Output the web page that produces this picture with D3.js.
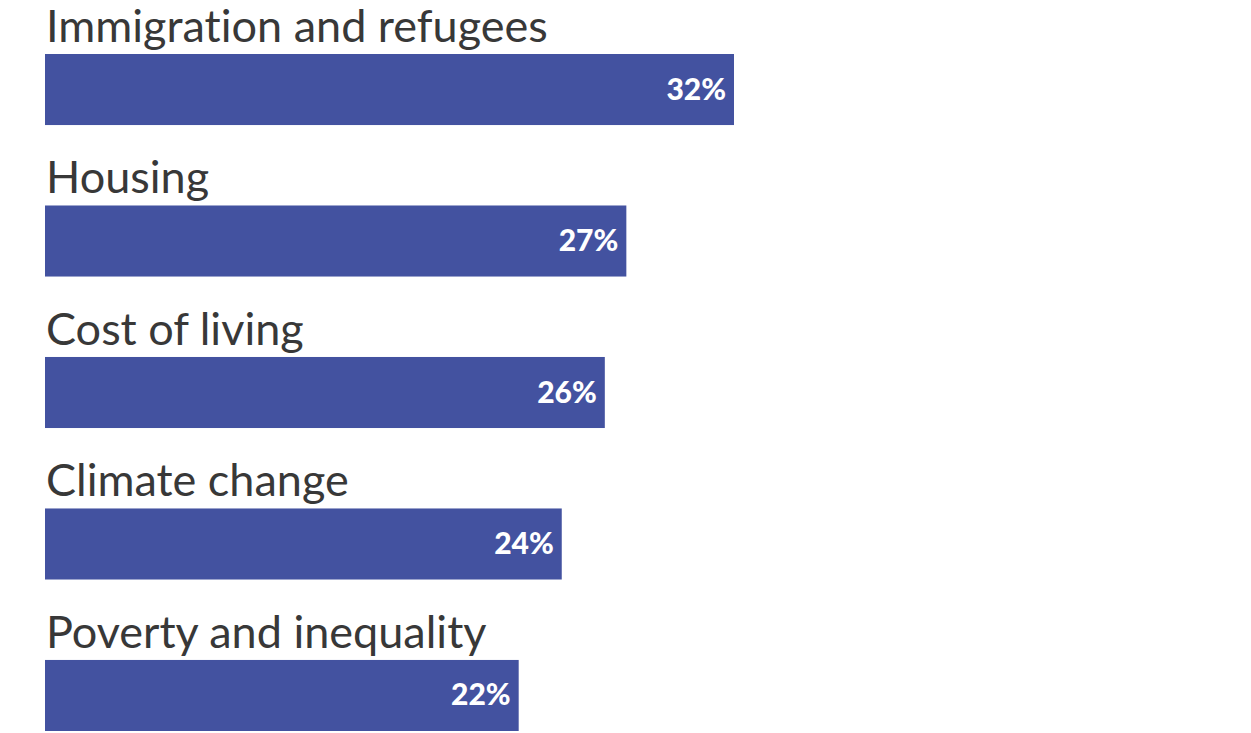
<!DOCTYPE html>
<html><head><meta charset="utf-8">
<script src="https://cdn.jsdelivr.net/npm/d3@7"></script>
<style>html,body{margin:0;padding:0;background:#fff;} text{font-variant-ligatures:none;}</style>
</head><body>
<svg id="chart" width="1251" height="733"></svg>
<script>
const categories = ["Immigration and refugees","Housing","Cost of living","Climate change","Poverty and inequality"];
const values = [32, 27, 26, 24, 22];
const valueLabels = ["32%","27%","26%","24%","22%"];

const svg = d3.select("#chart");
const x = d3.scaleLinear().domain([0, 32]).range([45, 734]);
const y = d3.scaleBand().domain(categories).range([54, 731]).paddingInner(0.531).paddingOuter(0);

const g = svg.selectAll("g.row").data(categories).join("g").attr("class","row");

g.append("rect")
  .attr("x", x(0))
  .attr("y", d => y(d))
  .attr("width", (d,i) => x(values[i]) - x(0))
  .attr("height", y.bandwidth())
  .attr("fill", "#4352a0");

g.append("text")
  .attr("x", x(0) + 1)
  .attr("y", d => y(d) - 12)
  .attr("font-family", "Lato, 'Noto Sans', sans-serif")
  .attr("font-size", 45)
  .attr("fill", "#383838")
  .text(d => d);

g.append("text")
  .attr("x", (d,i) => x(values[i]) - 8)
  .attr("y", d => y(d) + y.bandwidth()/2 + 10)
  .attr("text-anchor", "end")
  .attr("font-family", "Lato, 'Noto Sans', sans-serif")
  .attr("font-weight", 900)
  .attr("font-size", 30)
  .attr("fill", "#fff")
  .text((d,i) => valueLabels[i]);
</script>
</body></html>
